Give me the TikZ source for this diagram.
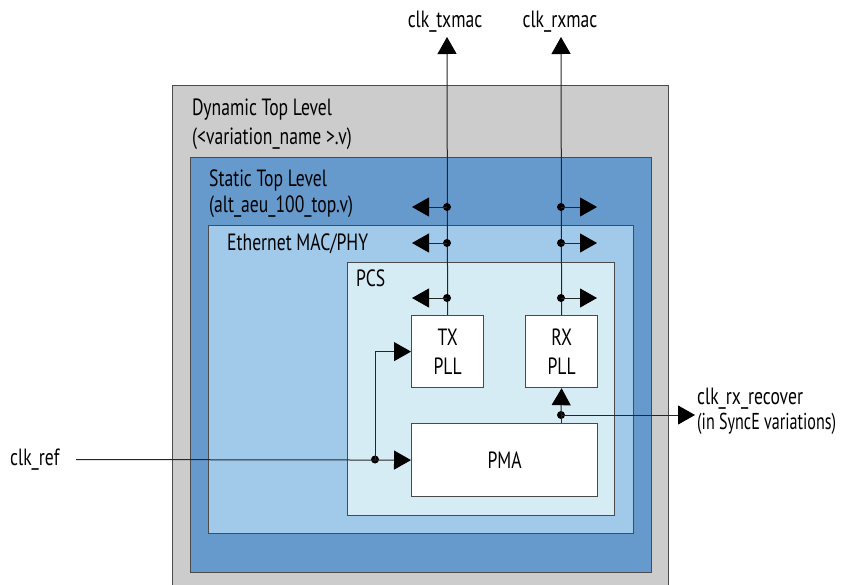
\documentclass[tikz,border=0pt]{standalone}
\usepackage{fontspec}
\setmainfont{PT Sans}[FakeStretch=0.75]
\newfontfamily\narrowfont{PT Sans}[FakeStretch=0.70]
\usetikzlibrary{arrows.meta}
\definecolor{grayfill}{HTML}{CCCCCC}
\definecolor{staticblue}{HTML}{6699CC}
\definecolor{ethblue}{HTML}{A0C9EA}
\definecolor{pcsblue}{HTML}{D5ECF4}
\definecolor{edge}{HTML}{4A4A4A}
\begin{document}
\begin{tikzpicture}[x=1pt,y=-1pt,
  font=\fontsize{23.5}{29}\selectfont,
  box/.style={draw=edge, line width=1.2pt, inner sep=0pt, anchor=north west},
  lbl/.style={inner sep=0pt, anchor=base west},
  wire/.style={draw=black!85, line width=1pt},
  tip/.style={-{Triangle[length=17pt,width=19pt,color=black]}},
  dot/.style={circle, fill=black, inner sep=0pt, minimum size=8pt}]
\useasboundingbox (0,0) rectangle (845,584);
\begin{scope}
\clip (0,0) rectangle (845,584);
\node[box, fill=grayfill, minimum width=496pt, minimum height=520pt] (dyn) at (172,85) {};
\end{scope}
\node[box, fill=staticblue, minimum width=461pt, minimum height=415pt] (stat) at (190,157) {};
\node[box, fill=ethblue, minimum width=425pt, minimum height=308pt] (eth) at (208,225) {};
\node[box, fill=pcsblue, minimum width=267pt, minimum height=253pt] (pcs) at (347,262) {};
\node[box, fill=white, minimum width=72pt, minimum height=72pt, align=center] (tx) at (411,315) {TX\\PLL};
\node[box, fill=white, minimum width=72pt, minimum height=72pt, align=center] (rx) at (525,315) {RX\\PLL};
\node[box, fill=white, minimum width=186pt, minimum height=73pt] (pma) at (411,423) {PMA};

% labels
\node[lbl] (dynA) at (192,115) {Dynamic Top Level};
\node[lbl] (dynB) at (192,144) {(<variation\_name >.v)};
\node[lbl] (statA) at (209,186) {Static Top Level};
\node[lbl] (statB) at (209,212) {(alt\_aeu\_100\_top.v)};
\node[lbl] (ethA) at (227,250) {Ethernet MAC/PHY};
\node[lbl] (pcsA) at (356,286) {PCS};
\node[inner sep=0pt, anchor=base] (txmac) at (445,27) {clk\_txmac};
\node[inner sep=0pt, anchor=base] (rxmac) at (560,27) {clk\_rxmac};
\node[lbl] (ref) at (10,465) {clk\_ref};
\node[lbl] (recA) at (697,404) {clk\_rx\_recover};
\node[lbl, font=\narrowfont\fontsize{23}{28}\selectfont] (recB) at (697,429) {(in SyncE variations)};

% top clock outputs
\coordinate (txtop) at (447,37);
\coordinate (rxtop) at (561,37);
\draw[wire,tip] (tx.north) -- (txtop);
\draw[wire,tip] (rx.north) -- (rxtop);

% side taps
\node[dot] (tdA) at (447,207) {};
\node[dot] (tdB) at (447,243) {};
\node[dot] (tdC) at (447,298) {};
\coordinate (tlA) at (412,207);
\coordinate (tlB) at (412,243);
\coordinate (tlC) at (412,298);
\draw[wire,tip] (tdA.center) -- (tlA);
\draw[wire,tip] (tdB.center) -- (tlB);
\draw[wire,tip] (tdC.center) -- (tlC);
\node[dot] (rdA) at (561,207) {};
\node[dot] (rdB) at (561,243) {};
\node[dot] (rdC) at (561,298) {};
\coordinate (rrA) at (597,207);
\coordinate (rrB) at (597,243);
\coordinate (rrC) at (597,298);
\draw[wire,tip] (rdA.center) -- (rrA);
\draw[wire,tip] (rdB.center) -- (rrB);
\draw[wire,tip] (rdC.center) -- (rrC);

% clk_ref
\coordinate (refstart) at (76,459.5);
\node[dot] (refdot) at (375,459.5) {};
\draw[wire,tip] (refstart) -- (pma.west);
\draw[wire,tip] (refdot.center) |- (tx.west);

% rx recover
\node[dot] (rxdot) at (561,415) {};
\coordinate (recov) at (695,415);
\draw[wire] (pma.north -| rxdot) -- (rxdot.center);
\draw[wire,tip] (rxdot.center) -- (rx.south);
\draw[wire,tip] (rxdot.center) -- (recov);
\end{tikzpicture}
\end{document}
